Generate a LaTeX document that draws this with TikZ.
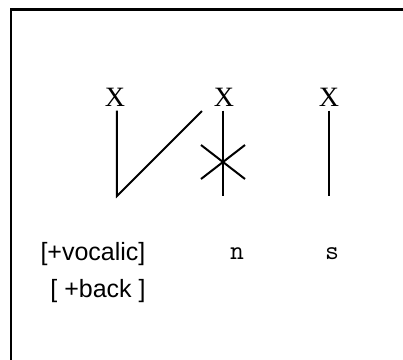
\documentclass[tikz,border=0pt]{standalone}
\usepackage{fontspec}
\setmainfont{Liberation Serif}
\setsansfont{Liberation Sans}
\usepackage{tikz}
\usetikzlibrary{positioning, calc}

\begin{document}
\begin{tikzpicture}[x=0.5pt, y=-0.5pt,
    slot/.style={font=\fontsize{14}{16}\selectfont\rmfamily, inner sep=2pt},
    feat/.style={font=\fontsize{12.5}{15}\selectfont\sffamily, inner sep=0pt},
    seg/.style={font=\fontsize{13.5}{15}\selectfont\ttfamily, inner sep=0pt},
    assoc/.style={line width=1pt}]
  \useasboundingbox (0,0) rectangle (403,360);
  \draw[line width=1.2pt] (11,360) -- (11,9.5) -- (403,9.5);
  % skeleton slots
  \node[slot] (x1) at (115,97) {X};
  \node[slot] (x2) at (224,97) {X};
  \node[slot] (x3) at (329,97) {X};
  % melody
  \node[feat] (vocalic) at (93,254) {[+vocalic]};
  \node[feat] (back) at (98,291) {[ +back ]};
  \node[seg] (n) at (237,254) {n};
  \node[seg] (s) at (332,254) {s};
  \coordinate (b1) at (117,196);
  \coordinate (b2) at (223,196);
  \coordinate (b3) at (329,196);
  \coordinate (spread) at (202,111);
  \coordinate (cut) at (223,162);
  % association lines
  \draw[assoc] (b1 |- x1.south) -- (b1) -- (spread);
  \draw[assoc] (b2 |- x2.south) -- (b2);
  \draw[assoc] (b3 |- x3.south) -- (b3);
  \draw[assoc] (cut) ++(-22,-17) -- ++(44,34);
  \draw[assoc] (cut) ++(-22,17) -- ++(44,-34);
\end{tikzpicture}
\end{document}
